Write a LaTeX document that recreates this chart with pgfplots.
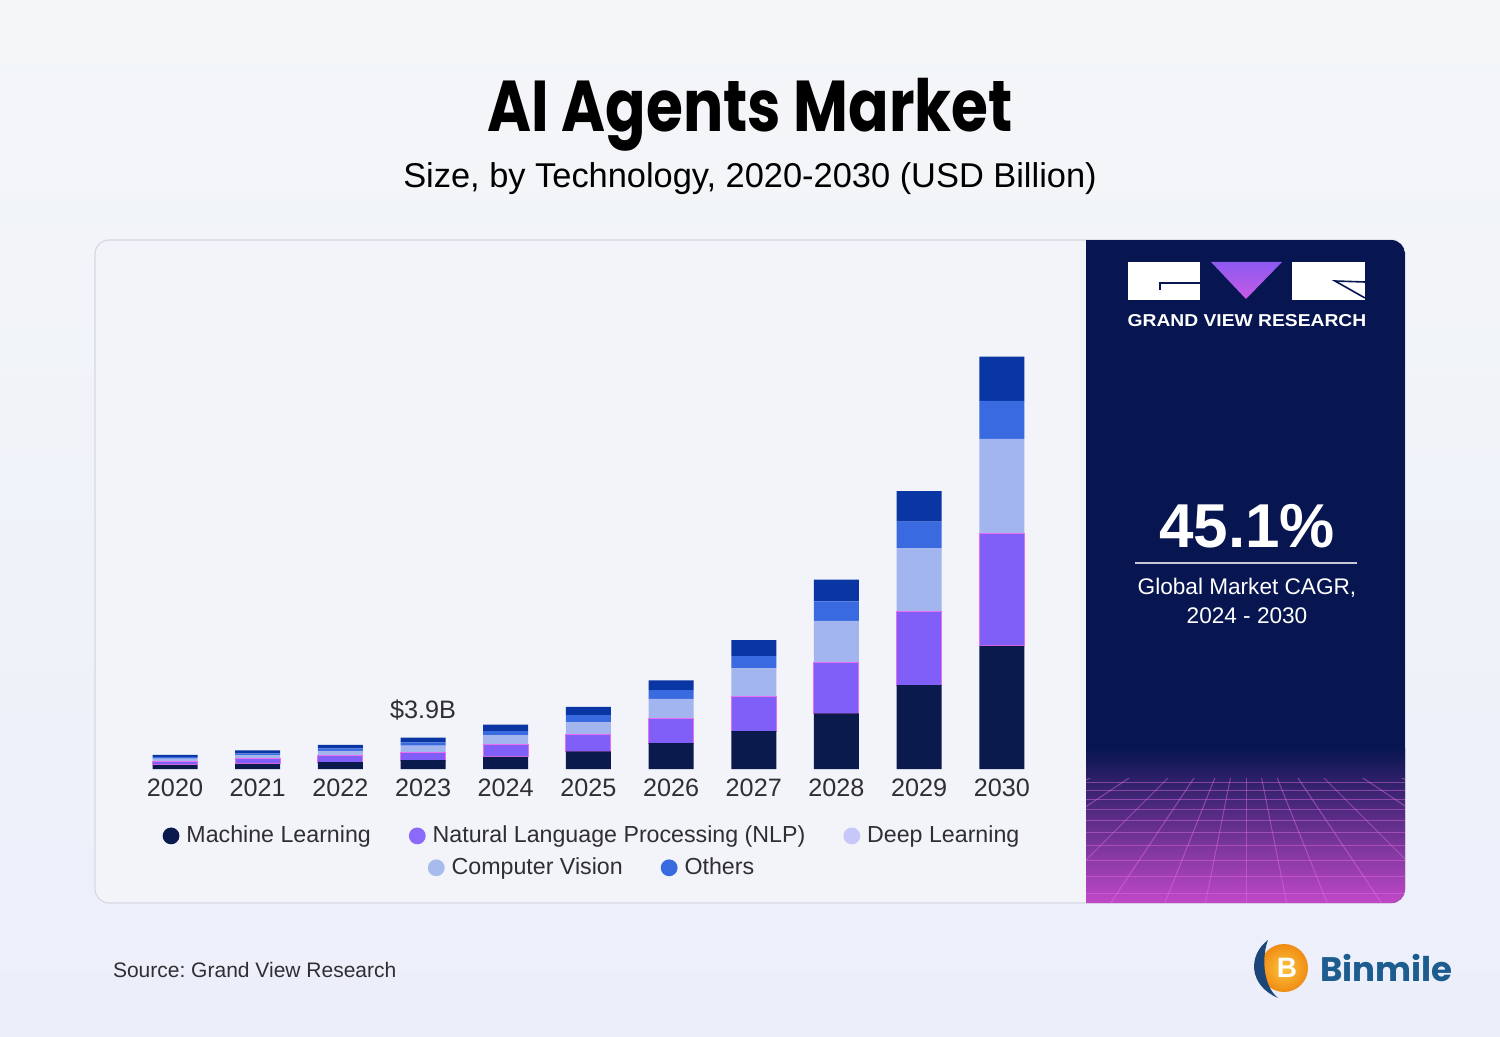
\documentclass[border=0pt]{standalone}
\usepackage{pgfplots}
\pgfplotsset{compat=1.18}
\usepackage{pgfplotstable}
\usepackage{fontspec}
\setmainfont{Liberation Sans}
\newfontfamily\pop{Poppins}
\frenchspacing
\definecolor{mlC}{HTML}{0B1A4D}
\definecolor{nlpC}{HTML}{7F5FF7}
\definecolor{dlC}{HTML}{A3B5EE}
\definecolor{cvC}{HTML}{3A6AE0}
\definecolor{otC}{HTML}{0A36A4}
\definecolor{lgDL}{HTML}{C8C8F8}
\definecolor{lgCV}{HTML}{A6BCEC}
\definecolor{lgNLP}{HTML}{8A6AF8}
\definecolor{gvr}{HTML}{071650}
\definecolor{pinkb}{HTML}{C048C8}
\definecolor{gridp}{HTML}{E66EE6}
\definecolor{panelC}{HTML}{F3F3FA}
\definecolor{panelB}{HTML}{D6D8E2}
\definecolor{txt}{HTML}{2E2E33}
\definecolor{bgT}{HTML}{F4F6F8}
\definecolor{bgB}{HTML}{ECEFFA}
\definecolor{triT}{HTML}{8C5AF0}
\definecolor{triB}{HTML}{C85AE6}
\definecolor{sepC}{HTML}{C8C8D7}
\definecolor{orIn}{HTML}{FCC43C}
\definecolor{orOut}{HTML}{F08C14}
\definecolor{binNavy}{HTML}{1C4678}
\definecolor{binTxt}{HTML}{1D5C8F}
\definecolor{nlpEdge}{HTML}{EB6EF0}
\pgfplotstableread{
x ml nlp dl cv ot
0 0.50 0.45 0.35 0.20 0.25
1 0.65 0.60 0.45 0.25 0.35
2 0.85 0.80 0.60 0.30 0.45
3 1.10 1.00 0.80 0.40 0.60
4 1.50 1.60 1.10 0.50 0.80
5 2.20 2.10 1.50 0.90 1.00
6 3.20 3.10 2.40 1.10 1.20
7 4.70 4.30 3.50 1.50 2.00
8 6.90 6.30 5.20 2.40 2.70
9 10.4 9.20 7.80 3.30 3.80
10 15.3 13.9 11.8 4.70 5.50
}\data
\begin{document}
\begin{tikzpicture}
\begin{scope}[x=0.5pt,y=-0.5pt]
\useasboundingbox (0,0) rectangle (1500,1037);
\shade[top color=bgT, bottom color=bgB] (0,0) rectangle (1500,1037);
% panel
\filldraw[fill=panelC, draw=panelB, line width=0.6pt, rounded corners=7pt] (95,240) rectangle (1405,903);
\begin{scope}
\clip[rounded corners=7pt] (95,240) rectangle (1405,903);
\fill[gvr] (1086,240) rectangle (1405,903);
\shade[top color=gvr, bottom color=pinkb] (1086,748) rectangle (1405,903);
\begin{scope}
\clip (1086,778) rectangle (1405,903);
\foreach \yy in {782,790,799,809,820,832,845,860,876,893}{
  \draw[gridp, opacity=0.45, line width=0.5pt] (1086,\yy) -- (1405,\yy);}
\foreach \xx in {-600,-450,-300,-200,-120,-60,0,60,120,200,300,450,600}{
  \draw[gridp, opacity=0.45, line width=0.5pt] (1246,700) -- ({1246+\xx},1000);}
\end{scope}
\end{scope}
% GVR logo
\fill[white] (1128,262) rectangle (1200,300);
\draw[gvr, line width=0.8pt] (1200,283) -- (1160,283) -- (1160,290);
\shade[top color=triT, bottom color=triB] (1211,262) -- (1282,262) -- (1246,299) -- cycle;
\fill[white] (1292,262) rectangle (1365,300);
\draw[gvr, line width=0.8pt] (1365,282) -- (1335,281) -- (1365,298);
\node[white, font=\bfseries\fontsize{8.6}{10}\selectfont] at (1247,321) {\scalebox{1.12}[1]{GRAND VIEW RESEARCH}};
\node[white, font=\bfseries\fontsize{31}{34}\selectfont] at (1247,526) {45.1\%};
\draw[sepC, line width=1pt] (1135,563) -- (1357,563);
\node[white, align=center, font=\fontsize{11.3}{14.6}\selectfont] at (1247,601) {Global Market CAGR,\\2024 - 2030};
% titles
\node[black, font=\pop\bfseries\fontsize{36}{40}\selectfont] at (750,115) {\scalebox{0.83}[1]{AI Agents Market}};
\node[black, font=\fontsize{17.2}{19}\selectfont] at (750,179) {Size, by Technology, 2020-2030 (USD Billion)};
\node[txt, anchor=west, font=\fontsize{10.5}{12}\selectfont] at (106,970) {Source: Grand View Research};
% Binmile logo
\shade[inner color=orIn, outer color=orOut] (1284,968) circle (24);
\fill[binNavy] (1268,940) .. controls (1248,955) and (1248,985) .. (1278,998) .. controls (1262,985) and (1262,955) .. (1268,940) -- cycle;
\node[white, font=\bfseries\fontsize{14}{16}\selectfont] at (1287,968) {B};
\node[binTxt, anchor=west, font=\pop\bfseries\fontsize{17}{20}\selectfont] at (1313,968) {Binmile};
\end{scope}
% chart
\begin{axis}[at={(62.7pt,-384.5pt)}, anchor=south west, scale only axis,
  width=463pt, height=221.5pt, xmin=-0.6, xmax=10.6, ymin=0, ymax=55,
  ybar stacked, bar width=22.5pt, clip=false,
  axis line style={draw=none}, tick style={draw=none}, ytick=\empty,
  xtick={0,...,10}, xticklabels={2020,2021,2022,2023,2024,2025,2026,2027,2028,2029,2030},
  xticklabel style={font=\fontsize{12.6}{14}\selectfont, text=txt, yshift=-1.5pt},
  legend image code/.code={\fill[#1, draw=none] (0pt,0pt) circle (4.2pt); \path (5.5pt,0pt);},
  legend style={at={(0.505,-0.151)}, anchor=center, draw=none, fill=none,
    font=\fontsize{11.6}{14}\selectfont, text=txt, legend columns=3,
    /tikz/every even column/.append style={column sep=17pt}},
  legend cell align=left]
\addplot[fill=mlC, draw=none, forget plot] table[x=x,y=ml]{\data};
\addplot[fill=nlpC, draw=nlpEdge, line width=0.5pt, forget plot] table[x=x,y=nlp]{\data};
\addplot[fill=dlC, draw=none, forget plot] table[x=x,y=dl]{\data};
\addplot[fill=cvC, draw=none, forget plot] table[x=x,y=cv]{\data};
\addplot[fill=otC, draw=none, forget plot] table[x=x,y=ot]{\data};
\addlegendimage{fill=mlC}\addlegendentry{Machine Learning}
\addlegendimage{fill=lgNLP}\addlegendentry{Natural Language Processing (NLP)}
\addlegendimage{fill=lgDL}\addlegendentry{Deep Learning}
\node[txt, font=\fontsize{12.6}{14}\selectfont] at (axis cs:3,3.9) [yshift=14pt] {\$3.9B};
\end{axis}
\begin{axis}[at={(62.7pt,-384.5pt)}, anchor=south west, scale only axis,
  width=463pt, height=221.5pt, xmin=0, xmax=1, ymin=0, ymax=1, hide axis,
  legend image code/.code={\fill[#1, draw=none] (0pt,0pt) circle (4.2pt); \path (5.5pt,0pt);},
  legend style={at={(0.505,-0.223)}, anchor=center, draw=none, fill=none,
    font=\fontsize{11.6}{14}\selectfont, text=txt, legend columns=2,
    /tikz/every even column/.append style={column sep=17pt}},
  legend cell align=left]
\addlegendimage{fill=lgCV}\addlegendentry{Computer Vision}
\addlegendimage{fill=cvC}\addlegendentry{Others}
\end{axis}
\end{tikzpicture}
\end{document}
